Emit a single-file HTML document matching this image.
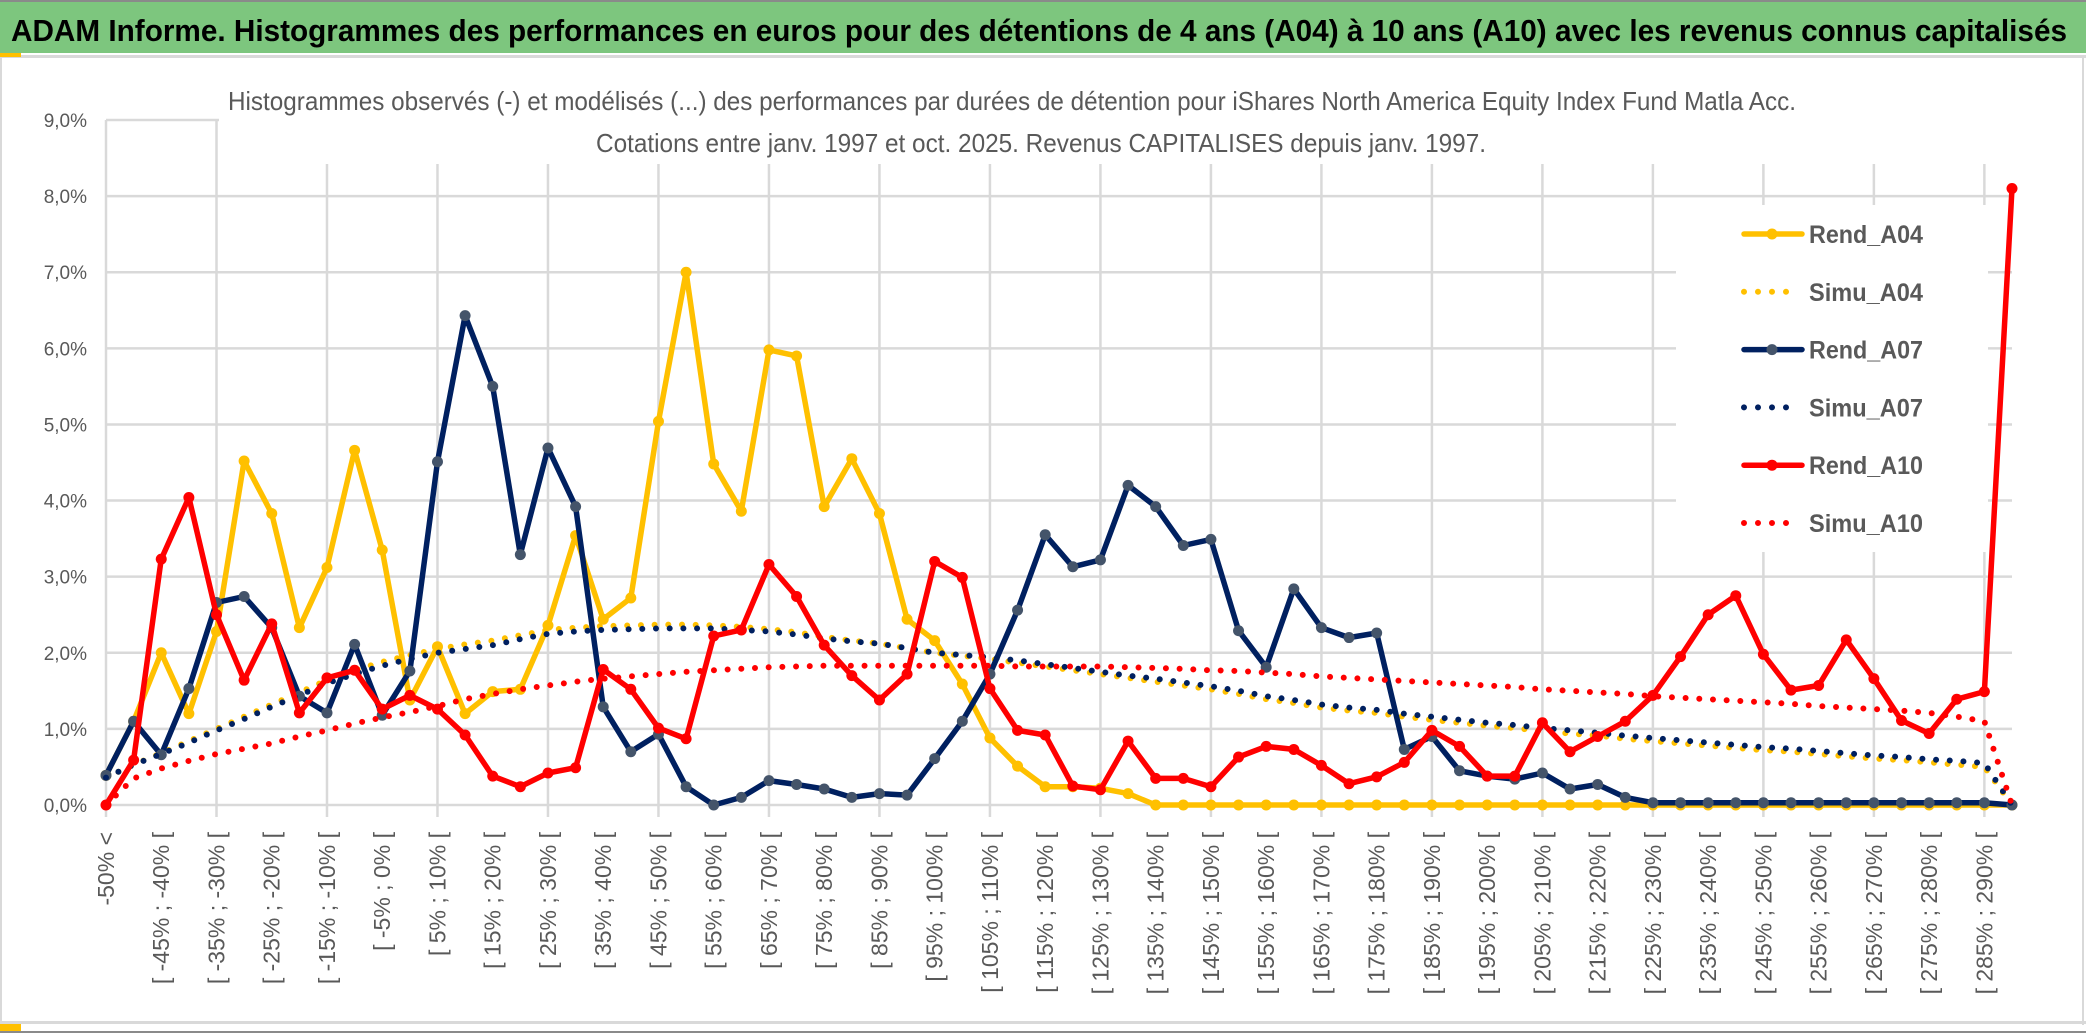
<!DOCTYPE html>
<html lang="fr">
<head>
<meta charset="utf-8">
<title>ADAM Informe - Histogrammes des performances</title>
<style>
  html,body{margin:0;padding:0;background:#fff;}
  svg{display:block;}
  text{font-family:"Liberation Sans", sans-serif;}
</style>
</head>
<body>
<svg id="chart" xmlns="http://www.w3.org/2000/svg" width="2086" height="1033" viewBox="0 0 2086 1033">
  <rect x="0" y="0" width="2086" height="1033" fill="#ffffff"/>
  <rect x="0" y="2" width="2086" height="51" fill="#7DC67E"/>
  <rect x="0" y="0" width="2086" height="2" fill="#8a8a8a"/>
  <text x="11" y="41" font-size="31" font-weight="bold" fill="#000" textLength="2056" lengthAdjust="spacingAndGlyphs">ADAM Informe. Histogrammes des performances en euros pour des détentions de 4 ans (A04) à 10 ans (A10) avec les revenus connus capitalisés</text>
  <rect x="0" y="55" width="2086" height="3" fill="#d9d9d9"/>
  <rect x="0" y="53" width="21" height="4" fill="#FFC000"/>
  <rect x="0" y="57" width="2" height="968" fill="#d9d9d9"/>
  <rect x="2082" y="57" width="2" height="968" fill="#d9d9d9"/>
  <rect x="0" y="1021" width="2086" height="3" fill="#d9d9d9"/>
  <rect x="0" y="1024" width="21" height="7" fill="#FFC000"/>
  <rect x="0" y="1031" width="2086" height="2" fill="#8a8a8a"/>
  <g id="grid"></g>
  <rect x="219" y="98" width="1800" height="66" fill="#ffffff"/>
  <text x="228" y="110" font-size="26" fill="#595959" textLength="1568" lengthAdjust="spacingAndGlyphs">Histogrammes observés (-) et modélisés (...) des performances par durées de détention pour iShares North America Equity Index Fund Matla Acc.</text>
  <text x="596" y="152" font-size="26" fill="#595959" textLength="890" lengthAdjust="spacingAndGlyphs">Cotations entre janv. 1997 et oct. 2025. Revenus CAPITALISES depuis janv. 1997.</text>
  <g id="yaxis"></g>
  <g id="xaxis"></g>
  <g id="series"></g>
  <g id="legend"></g>
</svg>
<script>
const rendA04 = [0.39,1.1,2.0,1.2,2.28,4.52,3.83,2.33,3.12,4.66,3.35,1.38,2.08,1.2,1.49,1.52,2.36,3.54,2.44,2.72,5.04,7.0,4.48,3.86,5.98,5.9,3.92,4.55,3.83,2.44,2.16,1.59,0.88,0.51,0.24,0.24,0.22,0.15,0,0,0,0,0,0,0,0,0,0,0,0,0,0,0,0,0,0,0,0,0,0,0,0,0,0,0,0,0,0,0,0];
const simuA04 = [0.36,0.53,0.68,0.84,1.0,1.16,1.32,1.48,1.64,1.77,1.88,1.97,2.05,2.11,2.16,2.23,2.3,2.33,2.35,2.36,2.37,2.37,2.36,2.34,2.31,2.27,2.21,2.16,2.12,2.06,2.0,1.96,1.92,1.87,1.82,1.77,1.72,1.67,1.62,1.57,1.52,1.46,1.39,1.34,1.28,1.24,1.21,1.16,1.12,1.08,1.04,1.01,0.97,0.94,0.91,0.87,0.84,0.81,0.78,0.75,0.72,0.7,0.67,0.64,0.61,0.59,0.56,0.53,0.5,0.0];
const rendA07 = [0.39,1.1,0.66,1.53,2.66,2.74,2.33,1.43,1.21,2.11,1.18,1.76,4.51,6.43,5.5,3.29,4.69,3.92,1.29,0.7,0.93,0.24,0,0.1,0.32,0.27,0.21,0.1,0.15,0.13,0.61,1.1,1.72,2.56,3.55,3.13,3.22,4.2,3.92,3.41,3.49,2.29,1.81,2.84,2.33,2.2,2.26,0.73,0.9,0.45,0.38,0.34,0.42,0.21,0.27,0.1,0.03,0.03,0.03,0.03,0.03,0.03,0.03,0.03,0.03,0.03,0.03,0.03,0.03,0.0];
const simuA07 = [0.36,0.53,0.67,0.82,0.98,1.13,1.29,1.44,1.6,1.72,1.83,1.92,2.0,2.05,2.1,2.18,2.25,2.28,2.3,2.31,2.32,2.32,2.32,2.3,2.28,2.24,2.19,2.15,2.12,2.06,2.0,1.97,1.94,1.9,1.85,1.8,1.75,1.7,1.66,1.61,1.56,1.5,1.43,1.38,1.32,1.28,1.25,1.2,1.16,1.12,1.08,1.05,1.01,0.98,0.95,0.91,0.88,0.85,0.82,0.79,0.76,0.74,0.71,0.68,0.65,0.63,0.6,0.58,0.55,0.0];
const rendA10 = [0,0.59,3.23,4.04,2.5,1.64,2.38,1.21,1.67,1.77,1.26,1.44,1.26,0.92,0.38,0.24,0.42,0.49,1.78,1.52,1.01,0.87,2.22,2.3,3.16,2.74,2.1,1.7,1.38,1.72,3.2,2.99,1.53,0.98,0.92,0.25,0.2,0.84,0.35,0.35,0.24,0.63,0.77,0.73,0.52,0.28,0.37,0.56,0.98,0.77,0.38,0.38,1.08,0.7,0.9,1.1,1.44,1.95,2.5,2.75,1.98,1.51,1.57,2.17,1.66,1.11,0.94,1.39,1.49,8.1];
const simuA10 = [0.0,0.35,0.48,0.58,0.67,0.74,0.81,0.9,0.98,1.07,1.15,1.22,1.3,1.39,1.46,1.52,1.57,1.62,1.66,1.69,1.72,1.75,1.77,1.79,1.81,1.82,1.83,1.83,1.83,1.83,1.83,1.83,1.83,1.82,1.82,1.82,1.82,1.81,1.8,1.79,1.77,1.76,1.74,1.72,1.69,1.67,1.65,1.63,1.61,1.59,1.57,1.55,1.52,1.5,1.48,1.46,1.43,1.41,1.39,1.37,1.35,1.33,1.3,1.28,1.26,1.24,1.21,1.16,1.1,0.0];
const yTicks = [0,1,2,3,4,5,6,7,8,9];
const yTickLabels = ["0,0%","1,0%","2,0%","3,0%","4,0%","5,0%","6,0%","7,0%","8,0%","9,0%"];
const categories = ["-50% <"];
for (let i = 1; i < 70; i++) { const lo = -50 + 5*(i-1); categories.push("[ " + lo + "% ; " + (lo+5) + "% ["); }
const seriesNames = ["Rend_A04","Simu_A04","Rend_A07","Simu_A07","Rend_A10","Simu_A10"];

const NS = "http://www.w3.org/2000/svg";
const X0 = 106, X1 = 2012, Y0 = 805, YTOP = 120;
const n = categories.length;
function xPos(i){ return X0 + i*(X1-X0)/(n-1); }
function yPos(v){ return Y0 - v*(Y0-YTOP)/9; }
function mk(tag, attrs, parent){ const e = document.createElementNS(NS, tag); for (const k in attrs) e.setAttribute(k, attrs[k]); parent.appendChild(e); return e; }

const grid = document.getElementById('grid');
yTicks.forEach(t => {
  const l = mk('line', {x1:X0, x2:X1, y1:yPos(t), y2:yPos(t), stroke:'#d9d9d9', 'stroke-width':2.5}, grid);
  
  
});
for (let i = 0; i < n; i += 4) {
  const l = mk('line', {x1:xPos(i), x2:xPos(i), y1:YTOP, y2:Y0+12, stroke:'#d9d9d9', 'stroke-width':2.5}, grid);
  
  
}

const yaxis = document.getElementById('yaxis');
yTicks.forEach((t, k) => {
  const tx = mk('text', {x:87, y:yPos(t)+7, 'font-size':19, fill:'#595959', 'text-anchor':'end'}, yaxis);
  tx.textContent = yTickLabels[k];
  
  
});

const xaxis = document.getElementById('xaxis');
for (let i = 0; i < n; i += 2) {
  const x = xPos(i) + 8, y = 832;
  const tx = mk('text', {x:x, y:y, 'font-size':23, fill:'#595959', 'text-anchor':'end', transform:'rotate(-90 '+x+' '+y+')'}, xaxis);
  tx.textContent = categories[i];
  
  
}

const legendBg = mk('rect', {x:1676, y:205, width:312, height:347, fill:'#ffffff'}, document.getElementById('legend'));



const series = document.getElementById('series');
const styles = [
  {data:rendA04, color:'#FFC000', marker:'#FFC000', dotted:false},
  {data:simuA04, color:'#FFC000', dotted:true},
  {data:rendA07, color:'#002060', marker:'#44546A', dotted:false},
  {data:simuA07, color:'#002060', dotted:true},
  {data:rendA10, color:'#FF0000', marker:'#FF0000', dotted:false},
  {data:simuA10, color:'#FF0000', dotted:true}
];
styles.forEach((s, si) => {
  const g = mk('g', {}, series);
  
  
  const pts = s.data.map((v,i) => xPos(i).toFixed(1)+','+yPos(v).toFixed(1)).join(' ');
  const attrs = {points:pts, fill:'none', stroke:s.color, 'stroke-linejoin':'round', 'stroke-linecap':'round'};
  if (s.dotted) { attrs['stroke-width'] = 6; attrs['stroke-dasharray'] = '0 13.7'; }
  else { attrs['stroke-width'] = 5.5; }
  const pl = mk('polyline', attrs, g);
  
  
  if (!s.dotted) {
    s.data.forEach((v,i) => {
      const c = mk('circle', {cx:xPos(i), cy:yPos(v), r:5.5, fill:s.marker}, g);
      
      
    });
  }
});

const legend = document.getElementById('legend');
seriesNames.forEach((name, k) => {
  const s = styles[k];
  const y = 234 + k*57.8;
  const g = mk('g', {}, legend);
  
  
  const la = {x1:1744, x2:1802, y1:y, y2:y, stroke:s.color, 'stroke-linecap':'round'};
  if (s.dotted) { la['stroke-width'] = 6; la['stroke-dasharray'] = '0 14'; la.x1 = 1744; la.x2 = 1790; }
  else { la['stroke-width'] = 5.5; }
  const ln = mk('line', la, g);
  
  
  if (!s.dotted) {
    const c = mk('circle', {cx:1772, cy:y, r:5.5, fill:s.marker}, g);
    
    
  }
  const tx = mk('text', {x:1809, y:y+9, 'font-size':25, 'font-weight':'bold', fill:'#595959', textLength:114, lengthAdjust:'spacingAndGlyphs'}, g);
  tx.textContent = name;
  
  
});
</script>
</body>
</html>
